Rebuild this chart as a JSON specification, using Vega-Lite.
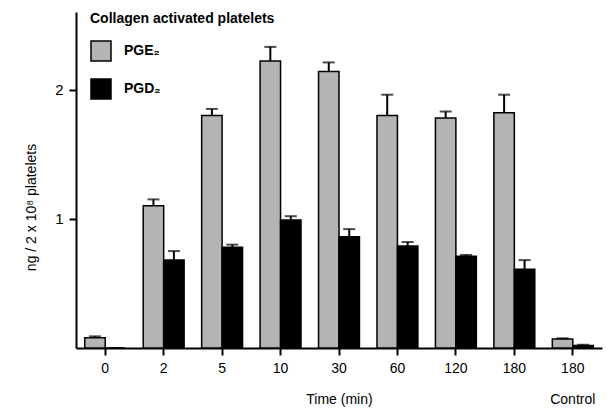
{
  "$schema": "https://vega.github.io/schema/vega-lite/v6.json",
  "width": 526,
  "height": 336,
  "autosize": "none",
  "padding": {"left": 76, "top": 12, "right": 13, "bottom": 65},
  "background": "white",
  "config": {
    "font": "Liberation Sans",
    "view": {"stroke": null},
    "axis": {"domainColor": "black", "tickColor": "black", "labelColor": "black", "titleColor": "black", "grid": false, "domainWidth": 2, "tickWidth": 2, "labelFont": "Liberation Sans", "titleFont": "Liberation Sans", "labelFontSize": 14, "titleFontSize": 14, "titleFontWeight": "normal"}
  },
  "data": {
    "values": [
      {"time": "0", "series": "PGE₂", "value": 0.08, "err": 0.09},
      {"time": "0", "series": "PGD₂", "value": 0.0, "err": 0.0},
      {"time": "2", "series": "PGE₂", "value": 1.10, "err": 1.15},
      {"time": "2", "series": "PGD₂", "value": 0.68, "err": 0.75},
      {"time": "5", "series": "PGE₂", "value": 1.80, "err": 1.85},
      {"time": "5", "series": "PGD₂", "value": 0.78, "err": 0.80},
      {"time": "10", "series": "PGE₂", "value": 2.22, "err": 2.33},
      {"time": "10", "series": "PGD₂", "value": 0.99, "err": 1.02},
      {"time": "30", "series": "PGE₂", "value": 2.14, "err": 2.21},
      {"time": "30", "series": "PGD₂", "value": 0.86, "err": 0.92},
      {"time": "60", "series": "PGE₂", "value": 1.80, "err": 1.96},
      {"time": "60", "series": "PGD₂", "value": 0.79, "err": 0.82},
      {"time": "120", "series": "PGE₂", "value": 1.78, "err": 1.83},
      {"time": "120", "series": "PGD₂", "value": 0.71, "err": 0.72},
      {"time": "180", "series": "PGE₂", "value": 1.82, "err": 1.96},
      {"time": "180", "series": "PGD₂", "value": 0.61, "err": 0.68},
      {"time": "Control", "series": "PGE₂", "value": 0.07, "err": 0.075},
      {"time": "Control", "series": "PGD₂", "value": 0.02, "err": 0.025}
    ]
  },
  "encoding": {
    "x": {
      "field": "time", "type": "nominal",
      "sort": ["0", "2", "5", "10", "30", "60", "120", "180", "Control"],
      "scale": {"paddingInner": 0.3, "paddingOuter": 0.15},
      "axis": {"title": "Time (min)", "labelAngle": 0, "tickSize": 7, "labelPadding": 6, "titleY": 44, "titleBaseline": "top", "labelLineHeight": 31, "labelBaseline": "top",
        "labelExpr": "datum.value == 'Control' ? ['180', 'Control'] : datum.value"}
    },
    "xOffset": {"field": "series", "type": "nominal", "sort": ["PGE₂", "PGD₂"]}
  },
  "layer": [
    {
      "mark": {"type": "bar", "stroke": "black", "strokeWidth": 1.5},
      "encoding": {
        "y": {"field": "value", "type": "quantitative", "scale": {"domain": [0, 2.5]},
          "axis": {"title": "ng / 2 x 10⁸ platelets", "values": [1, 2], "format": "d", "tickSize": 7, "labelPadding": 6, "titlePadding": 16, "titleY": 195, "labelFontSize": 15}},
        "fill": {"field": "series", "type": "nominal", "sort": ["PGE₂", "PGD₂"],
          "scale": {"domain": ["PGE₂", "PGD₂"], "range": ["#b4b4b4", "#000000"]},
          "legend": {"title": "Collagen activated platelets", "orient": "none", "legendX": 14, "legendY": 0,
            "titleFontSize": 14, "titleFontWeight": "bold", "titleColor": "black", "titlePadding": 14, "titleLimit": 400,
            "labelFontSize": 14, "labelFontWeight": "bold", "labelColor": "black", "labelOffset": 12,
            "symbolType": "square", "symbolSize": 400, "symbolStrokeColor": "black", "symbolStrokeWidth": 1.5, "rowPadding": 12}}
      }
    },
    {
      "mark": {"type": "rule", "color": "black", "strokeWidth": 2},
      "encoding": {
        "y": {"field": "value", "type": "quantitative"},
        "y2": {"field": "err"}
      }
    },
    {
      "mark": {"type": "tick", "color": "black", "thickness": 2, "size": 12},
      "encoding": {
        "y": {"field": "err", "type": "quantitative"}
      }
    }
  ]
}
